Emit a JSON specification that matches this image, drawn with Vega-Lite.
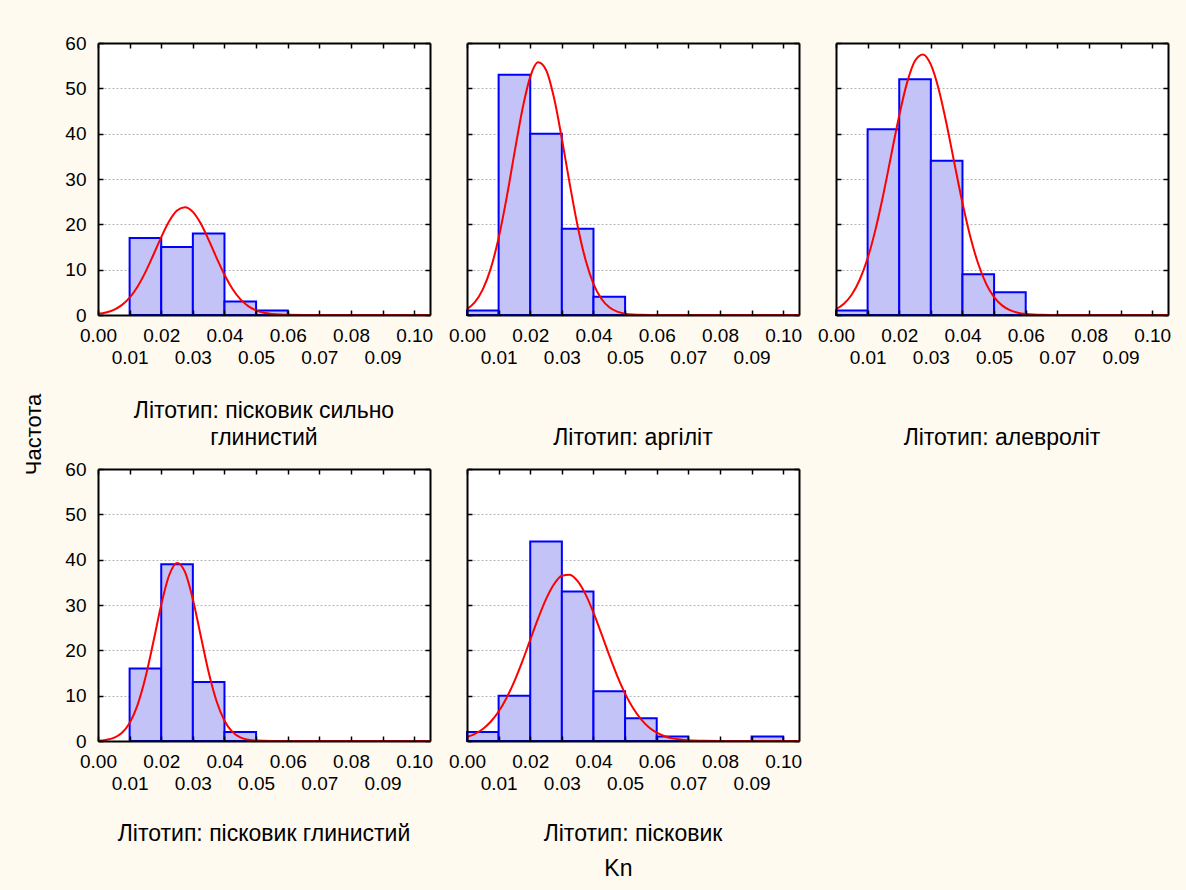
{
  "$schema": "https://vega.github.io/schema/vega-lite/v6.json",
  "background": "#fffaf0",
  "padding": {"left": 22, "top": 34, "right": 14, "bottom": 10},
  "config": {
    "font": "Liberation Sans",
    "view": {"fill": "white", "stroke": null},
    "axis": {"labelFont": "Liberation Sans", "labelFontSize": 19, "labelColor": "black", "tickColor": "black", "tickWidth": 1.5, "domainColor": "black", "domainWidth": 2},
    "title": {"font": "Liberation Sans", "fontSize": 23, "fontWeight": "normal", "color": "black", "lineHeight": 27}
  },
  "datasets": {
    "bins": [
      {"t": "пісковик сильно глинистий", "lo": 0.01, "hi": 0.02, "n": 17},
      {"t": "пісковик сильно глинистий", "lo": 0.02, "hi": 0.03, "n": 15},
      {"t": "пісковик сильно глинистий", "lo": 0.03, "hi": 0.04, "n": 18},
      {"t": "пісковик сильно глинистий", "lo": 0.04, "hi": 0.05, "n": 3},
      {"t": "пісковик сильно глинистий", "lo": 0.05, "hi": 0.06, "n": 1},
      {"t": "аргіліт", "lo": 0.0, "hi": 0.01, "n": 1},
      {"t": "аргіліт", "lo": 0.01, "hi": 0.02, "n": 53},
      {"t": "аргіліт", "lo": 0.02, "hi": 0.03, "n": 40},
      {"t": "аргіліт", "lo": 0.03, "hi": 0.04, "n": 19},
      {"t": "аргіліт", "lo": 0.04, "hi": 0.05, "n": 4},
      {"t": "алевроліт", "lo": 0.0, "hi": 0.01, "n": 1},
      {"t": "алевроліт", "lo": 0.01, "hi": 0.02, "n": 41},
      {"t": "алевроліт", "lo": 0.02, "hi": 0.03, "n": 52},
      {"t": "алевроліт", "lo": 0.03, "hi": 0.04, "n": 34},
      {"t": "алевроліт", "lo": 0.04, "hi": 0.05, "n": 9},
      {"t": "алевроліт", "lo": 0.05, "hi": 0.06, "n": 5},
      {"t": "пісковик глинистий", "lo": 0.01, "hi": 0.02, "n": 16},
      {"t": "пісковик глинистий", "lo": 0.02, "hi": 0.03, "n": 39},
      {"t": "пісковик глинистий", "lo": 0.03, "hi": 0.04, "n": 13},
      {"t": "пісковик глинистий", "lo": 0.04, "hi": 0.05, "n": 2},
      {"t": "пісковик", "lo": 0.0, "hi": 0.01, "n": 2},
      {"t": "пісковик", "lo": 0.01, "hi": 0.02, "n": 10},
      {"t": "пісковик", "lo": 0.02, "hi": 0.03, "n": 44},
      {"t": "пісковик", "lo": 0.03, "hi": 0.04, "n": 33},
      {"t": "пісковик", "lo": 0.04, "hi": 0.05, "n": 11},
      {"t": "пісковик", "lo": 0.05, "hi": 0.06, "n": 5},
      {"t": "пісковик", "lo": 0.06, "hi": 0.07, "n": 1},
      {"t": "пісковик", "lo": 0.09, "hi": 0.1, "n": 1}
    ],
    "curve": [
      {"t": "пісковик сильно глинистий", "kn": 0, "f": 0.25},
      {"t": "пісковик сильно глинистий", "kn": 0.0025, "f": 0.56},
      {"t": "пісковик сильно глинистий", "kn": 0.005, "f": 1.14},
      {"t": "пісковик сильно глинистий", "kn": 0.0075, "f": 2.17},
      {"t": "пісковик сильно глинистий", "kn": 0.01, "f": 3.83},
      {"t": "пісковик сильно глинистий", "kn": 0.0125, "f": 6.25},
      {"t": "пісковик сильно глинистий", "kn": 0.015, "f": 9.45},
      {"t": "пісковик сильно глинистий", "kn": 0.0175, "f": 13.24},
      {"t": "пісковик сильно глинистий", "kn": 0.02, "f": 17.19},
      {"t": "пісковик сильно глинистий", "kn": 0.0225, "f": 20.68},
      {"t": "пісковик сильно глинистий", "kn": 0.025, "f": 23.04},
      {"t": "пісковик сильно глинистий", "kn": 0.0275, "f": 23.79},
      {"t": "пісковик сильно глинистий", "kn": 0.03, "f": 22.76},
      {"t": "пісковик сильно глинистий", "kn": 0.0325, "f": 20.18},
      {"t": "пісковик сильно глинистий", "kn": 0.035, "f": 16.57},
      {"t": "пісковик сильно глинистий", "kn": 0.0375, "f": 12.61},
      {"t": "пісковик сильно глинистий", "kn": 0.04, "f": 8.89},
      {"t": "пісковик сильно глинистий", "kn": 0.0425, "f": 5.8},
      {"t": "пісковик сильно глинистий", "kn": 0.045, "f": 3.51},
      {"t": "пісковик сильно глинистий", "kn": 0.0475, "f": 1.97},
      {"t": "пісковик сильно глинистий", "kn": 0.05, "f": 1.02},
      {"t": "пісковик сильно глинистий", "kn": 0.0525, "f": 0.49},
      {"t": "пісковик сильно глинистий", "kn": 0.055, "f": 0.22},
      {"t": "пісковик сильно глинистий", "kn": 0.0575, "f": 0.09},
      {"t": "пісковик сильно глинистий", "kn": 0.06, "f": 0.035},
      {"t": "пісковик сильно глинистий", "kn": 0.065, "f": 0.003},
      {"t": "пісковик сильно глинистий", "kn": 0.07, "f": 0},
      {"t": "пісковик сильно глинистий", "kn": 0.105, "f": 0},
      {"t": "аргіліт", "kn": 0, "f": 1.31},
      {"t": "аргіліт", "kn": 0.0025, "f": 2.84},
      {"t": "аргіліт", "kn": 0.005, "f": 5.64},
      {"t": "аргіліт", "kn": 0.0075, "f": 10.23},
      {"t": "аргіліт", "kn": 0.01, "f": 16.98},
      {"t": "аргіліт", "kn": 0.0125, "f": 25.74},
      {"t": "аргіліт", "kn": 0.015, "f": 35.71},
      {"t": "аргіліт", "kn": 0.0175, "f": 45.29},
      {"t": "аргіліт", "kn": 0.02, "f": 52.54},
      {"t": "аргіліт", "kn": 0.0225, "f": 55.74},
      {"t": "аргіліт", "kn": 0.025, "f": 54.06},
      {"t": "аргіліт", "kn": 0.0275, "f": 47.96},
      {"t": "аргіліт", "kn": 0.03, "f": 38.9},
      {"t": "аргіліт", "kn": 0.0325, "f": 28.87},
      {"t": "аргіліт", "kn": 0.035, "f": 19.59},
      {"t": "аргіліт", "kn": 0.0375, "f": 12.15},
      {"t": "аргіліт", "kn": 0.04, "f": 6.89},
      {"t": "аргіліт", "kn": 0.0425, "f": 3.57},
      {"t": "аргіліт", "kn": 0.045, "f": 1.69},
      {"t": "аргіліт", "kn": 0.0475, "f": 0.73},
      {"t": "аргіліт", "kn": 0.05, "f": 0.29},
      {"t": "аргіліт", "kn": 0.0525, "f": 0.11},
      {"t": "аргіліт", "kn": 0.055, "f": 0.035},
      {"t": "аргіліт", "kn": 0.06, "f": 0.002},
      {"t": "аргіліт", "kn": 0.065, "f": 0},
      {"t": "аргіліт", "kn": 0.105, "f": 0},
      {"t": "алевроліт", "kn": 0, "f": 1.27},
      {"t": "алевроліт", "kn": 0.0025, "f": 2.48},
      {"t": "алевроліт", "kn": 0.005, "f": 4.53},
      {"t": "алевроліт", "kn": 0.0075, "f": 7.78},
      {"t": "алевроліт", "kn": 0.01, "f": 12.52},
      {"t": "алевроліт", "kn": 0.0125, "f": 18.89},
      {"t": "алевроліт", "kn": 0.015, "f": 26.7},
      {"t": "алевроліт", "kn": 0.0175, "f": 35.41},
      {"t": "алевроліт", "kn": 0.02, "f": 44.02},
      {"t": "алевроліт", "kn": 0.0225, "f": 51.31},
      {"t": "алевроліт", "kn": 0.025, "f": 56.09},
      {"t": "алевроліт", "kn": 0.0275, "f": 57.47},
      {"t": "алевроліт", "kn": 0.03, "f": 55.22},
      {"t": "алевроліт", "kn": 0.0325, "f": 49.75},
      {"t": "алевроліт", "kn": 0.035, "f": 42.03},
      {"t": "алевроліт", "kn": 0.0375, "f": 33.29},
      {"t": "алевроліт", "kn": 0.04, "f": 24.72},
      {"t": "алевроліт", "kn": 0.0425, "f": 17.21},
      {"t": "алевроліт", "kn": 0.045, "f": 11.24},
      {"t": "алевроліт", "kn": 0.0475, "f": 6.88},
      {"t": "алевроліт", "kn": 0.05, "f": 3.94},
      {"t": "алевроліт", "kn": 0.0525, "f": 2.12},
      {"t": "алевроліт", "kn": 0.055, "f": 1.07},
      {"t": "алевроліт", "kn": 0.0575, "f": 0.51},
      {"t": "алевроліт", "kn": 0.06, "f": 0.22},
      {"t": "алевроліт", "kn": 0.0625, "f": 0.09},
      {"t": "алевроліт", "kn": 0.065, "f": 0.036},
      {"t": "алевроліт", "kn": 0.07, "f": 0.004},
      {"t": "алевроліт", "kn": 0.075, "f": 0},
      {"t": "алевроліт", "kn": 0.105, "f": 0},
      {"t": "пісковик глинистий", "kn": 0, "f": 0.07},
      {"t": "пісковик глинистий", "kn": 0.0025, "f": 0.24},
      {"t": "пісковик глинистий", "kn": 0.005, "f": 0.69},
      {"t": "пісковик глинистий", "kn": 0.0075, "f": 1.76},
      {"t": "пісковик глинистий", "kn": 0.01, "f": 3.97},
      {"t": "пісковик глинистий", "kn": 0.0125, "f": 7.93},
      {"t": "пісковик глинистий", "kn": 0.015, "f": 14.0},
      {"t": "пісковик глинистий", "kn": 0.0175, "f": 21.82},
      {"t": "пісковик глинистий", "kn": 0.02, "f": 30.06},
      {"t": "пісковик глинистий", "kn": 0.0225, "f": 36.56},
      {"t": "пісковик глинистий", "kn": 0.025, "f": 39.28},
      {"t": "пісковик глинистий", "kn": 0.0275, "f": 37.29},
      {"t": "пісковик глинистий", "kn": 0.03, "f": 31.27},
      {"t": "пісковик глинистий", "kn": 0.0325, "f": 23.16},
      {"t": "пісковик глинистий", "kn": 0.035, "f": 15.16},
      {"t": "пісковик глинистий", "kn": 0.0375, "f": 8.76},
      {"t": "пісковик глинистий", "kn": 0.04, "f": 4.48},
      {"t": "пісковик глинистий", "kn": 0.0425, "f": 2.02},
      {"t": "пісковик глинистий", "kn": 0.045, "f": 0.8},
      {"t": "пісковик глинистий", "kn": 0.0475, "f": 0.28},
      {"t": "пісковик глинистий", "kn": 0.05, "f": 0.09},
      {"t": "пісковик глинистий", "kn": 0.055, "f": 0.005},
      {"t": "пісковик глинистий", "kn": 0.06, "f": 0},
      {"t": "пісковик глинистий", "kn": 0.105, "f": 0},
      {"t": "пісковик", "kn": 0, "f": 0.9},
      {"t": "пісковик", "kn": 0.0025, "f": 1.58},
      {"t": "пісковик", "kn": 0.005, "f": 2.66},
      {"t": "пісковик", "kn": 0.0075, "f": 4.25},
      {"t": "пісковик", "kn": 0.01, "f": 6.5},
      {"t": "пісковик", "kn": 0.0125, "f": 9.48},
      {"t": "пісковик", "kn": 0.015, "f": 13.22},
      {"t": "пісковик", "kn": 0.0175, "f": 17.58},
      {"t": "пісковик", "kn": 0.02, "f": 22.32},
      {"t": "пісковик", "kn": 0.0225, "f": 27.05},
      {"t": "пісковик", "kn": 0.025, "f": 31.3},
      {"t": "пісковик", "kn": 0.0275, "f": 34.57},
      {"t": "пісковик", "kn": 0.03, "f": 36.45},
      {"t": "пісковик", "kn": 0.0325, "f": 36.69},
      {"t": "пісковик", "kn": 0.035, "f": 35.25},
      {"t": "пісковик", "kn": 0.0375, "f": 32.34},
      {"t": "пісковик", "kn": 0.04, "f": 28.31},
      {"t": "пісковик", "kn": 0.0425, "f": 23.67},
      {"t": "пісковик", "kn": 0.045, "f": 18.88},
      {"t": "пісковик", "kn": 0.0475, "f": 14.38},
      {"t": "пісковик", "kn": 0.05, "f": 10.46},
      {"t": "пісковик", "kn": 0.0525, "f": 7.26},
      {"t": "пісковик", "kn": 0.055, "f": 4.81},
      {"t": "пісковик", "kn": 0.0575, "f": 3.04},
      {"t": "пісковик", "kn": 0.06, "f": 1.84},
      {"t": "пісковик", "kn": 0.0625, "f": 1.06},
      {"t": "пісковик", "kn": 0.065, "f": 0.58},
      {"t": "пісковик", "kn": 0.0675, "f": 0.31},
      {"t": "пісковик", "kn": 0.07, "f": 0.15},
      {"t": "пісковик", "kn": 0.075, "f": 0.03},
      {"t": "пісковик", "kn": 0.08, "f": 0.004},
      {"t": "пісковик", "kn": 0.085, "f": 0},
      {"t": "пісковик", "kn": 0.105, "f": 0}
    ]
  },
  "title": {"text": "Частота", "orient": "left", "anchor": "middle", "offset": 19, "fontSize": 22, "dx": 23},
  "hconcat": [
    {
      "title": {"text": "Kn", "orient": "bottom", "anchor": "middle", "offset": 12, "fontSize": 23},
      "columns": 3,
      "spacing": {"row": 154, "column": 37},
      "bounds": "flush",
      "concat": [
        {
          "width": 332, "height": 272,
          "title": {"text": ["Літотип: пісковик сильно", "глинистий"], "orient": "bottom", "anchor": "middle", "offset": 33},
          "resolve": {"axis": {"x": "independent", "y": "independent"}},
          "layer": [
            {
              "data": {"name": "bins"},
              "transform": [{"filter": "datum.t === 'пісковик сильно глинистий'"}],
              "mark": {"type": "rect", "fill": "#c3c3f7", "stroke": "#0000ff", "strokeWidth": 2},
              "encoding": {
                "x": {"field": "lo", "type": "quantitative", "scale": {"domain": [0, 0.105], "nice": false, "zero": false},
                  "axis": {"orient": "bottom", "title": null, "values": [0, 0.01, 0.02, 0.03, 0.04, 0.05, 0.06, 0.07, 0.08, 0.09, 0.1], "labelExpr": "format(datum.value, '.2f')", "labelOverlap": false, "labelFlush": false, "tickSize": -5, "grid": false, "zindex": 1,
                    "labelPadding": {"condition": {"test": "round(datum.value * 100) % 2 === 1", "value": 38}, "value": 16}}},
                "x2": {"field": "hi"},
                "y": {"field": "n", "type": "quantitative", "scale": {"domain": [0, 60], "nice": false},
                  "axis": {"orient": "left", "title": null, "values": [0, 10, 20, 30, 40, 50, 60], "labelPadding": 17, "tickSize": -5, "grid": false, "zindex": 1}},
                "y2": {"datum": 0}
              }
            },
            {
              "data": {"name": "curve"},
              "transform": [{"filter": "datum.t === 'пісковик сильно глинистий'"}],
              "mark": {"type": "line", "color": "#ff0000", "strokeWidth": 2, "interpolate": "monotone"},
              "encoding": {
                "x": {"field": "kn", "type": "quantitative",
                  "axis": {"orient": "top", "title": null, "values": [0, 0.01, 0.02, 0.03, 0.04, 0.05, 0.06, 0.07, 0.08, 0.09, 0.1], "labels": false, "tickSize": -5, "grid": false, "zindex": 1}},
                "y": {"field": "f", "type": "quantitative",
                  "axis": {"orient": "right", "title": null, "values": [0, 10, 20, 30, 40, 50, 60], "labels": false, "tickSize": -5, "grid": true, "gridDash": [2, 2], "gridColor": "#b4b4b4", "zindex": 0}}
              }
            }
          ]
        },
        {
          "width": 332, "height": 272,
          "title": {"text": "Літотип: аргіліт", "orient": "bottom", "anchor": "middle", "offset": 60},
          "resolve": {"axis": {"x": "independent", "y": "independent"}},
          "layer": [
            {
              "data": {"name": "bins"},
              "transform": [{"filter": "datum.t === 'аргіліт'"}],
              "mark": {"type": "rect", "fill": "#c3c3f7", "stroke": "#0000ff", "strokeWidth": 2},
              "encoding": {
                "x": {"field": "lo", "type": "quantitative", "scale": {"domain": [0, 0.105], "nice": false, "zero": false},
                  "axis": {"orient": "bottom", "title": null, "values": [0, 0.01, 0.02, 0.03, 0.04, 0.05, 0.06, 0.07, 0.08, 0.09, 0.1], "labelExpr": "format(datum.value, '.2f')", "labelOverlap": false, "labelFlush": false, "tickSize": -5, "grid": false, "zindex": 1,
                    "labelPadding": {"condition": {"test": "round(datum.value * 100) % 2 === 1", "value": 38}, "value": 16}}},
                "x2": {"field": "hi"},
                "y": {"field": "n", "type": "quantitative", "scale": {"domain": [0, 60], "nice": false},
                  "axis": {"orient": "left", "title": null, "values": [0, 10, 20, 30, 40, 50, 60], "labels": false, "tickSize": -5, "grid": false, "zindex": 1}},
                "y2": {"datum": 0}
              }
            },
            {
              "data": {"name": "curve"},
              "transform": [{"filter": "datum.t === 'аргіліт'"}],
              "mark": {"type": "line", "color": "#ff0000", "strokeWidth": 2, "interpolate": "monotone"},
              "encoding": {
                "x": {"field": "kn", "type": "quantitative",
                  "axis": {"orient": "top", "title": null, "values": [0, 0.01, 0.02, 0.03, 0.04, 0.05, 0.06, 0.07, 0.08, 0.09, 0.1], "labels": false, "tickSize": -5, "grid": false, "zindex": 1}},
                "y": {"field": "f", "type": "quantitative",
                  "axis": {"orient": "right", "title": null, "values": [0, 10, 20, 30, 40, 50, 60], "labels": false, "tickSize": -5, "grid": true, "gridDash": [2, 2], "gridColor": "#b4b4b4", "zindex": 0}}
              }
            }
          ]
        },
        {
          "width": 332, "height": 272,
          "title": {"text": "Літотип: алевроліт", "orient": "bottom", "anchor": "middle", "offset": 60},
          "resolve": {"axis": {"x": "independent", "y": "independent"}},
          "layer": [
            {
              "data": {"name": "bins"},
              "transform": [{"filter": "datum.t === 'алевроліт'"}],
              "mark": {"type": "rect", "fill": "#c3c3f7", "stroke": "#0000ff", "strokeWidth": 2},
              "encoding": {
                "x": {"field": "lo", "type": "quantitative", "scale": {"domain": [0, 0.105], "nice": false, "zero": false},
                  "axis": {"orient": "bottom", "title": null, "values": [0, 0.01, 0.02, 0.03, 0.04, 0.05, 0.06, 0.07, 0.08, 0.09, 0.1], "labelExpr": "format(datum.value, '.2f')", "labelOverlap": false, "labelFlush": false, "tickSize": -5, "grid": false, "zindex": 1,
                    "labelPadding": {"condition": {"test": "round(datum.value * 100) % 2 === 1", "value": 38}, "value": 16}}},
                "x2": {"field": "hi"},
                "y": {"field": "n", "type": "quantitative", "scale": {"domain": [0, 60], "nice": false},
                  "axis": {"orient": "left", "title": null, "values": [0, 10, 20, 30, 40, 50, 60], "labels": false, "tickSize": -5, "grid": false, "zindex": 1}},
                "y2": {"datum": 0}
              }
            },
            {
              "data": {"name": "curve"},
              "transform": [{"filter": "datum.t === 'алевроліт'"}],
              "mark": {"type": "line", "color": "#ff0000", "strokeWidth": 2, "interpolate": "monotone"},
              "encoding": {
                "x": {"field": "kn", "type": "quantitative",
                  "axis": {"orient": "top", "title": null, "values": [0, 0.01, 0.02, 0.03, 0.04, 0.05, 0.06, 0.07, 0.08, 0.09, 0.1], "labels": false, "tickSize": -5, "grid": false, "zindex": 1}},
                "y": {"field": "f", "type": "quantitative",
                  "axis": {"orient": "right", "title": null, "values": [0, 10, 20, 30, 40, 50, 60], "labels": false, "tickSize": -5, "grid": true, "gridDash": [2, 2], "gridColor": "#b4b4b4", "zindex": 0}}
              }
            }
          ]
        },
        {
          "width": 332, "height": 272,
          "title": {"text": "Літотип: пісковик глинистий", "orient": "bottom", "anchor": "middle", "offset": 30},
          "resolve": {"axis": {"x": "independent", "y": "independent"}},
          "layer": [
            {
              "data": {"name": "bins"},
              "transform": [{"filter": "datum.t === 'пісковик глинистий'"}],
              "mark": {"type": "rect", "fill": "#c3c3f7", "stroke": "#0000ff", "strokeWidth": 2},
              "encoding": {
                "x": {"field": "lo", "type": "quantitative", "scale": {"domain": [0, 0.105], "nice": false, "zero": false},
                  "axis": {"orient": "bottom", "title": null, "values": [0, 0.01, 0.02, 0.03, 0.04, 0.05, 0.06, 0.07, 0.08, 0.09, 0.1], "labelExpr": "format(datum.value, '.2f')", "labelOverlap": false, "labelFlush": false, "tickSize": -5, "grid": false, "zindex": 1,
                    "labelPadding": {"condition": {"test": "round(datum.value * 100) % 2 === 1", "value": 38}, "value": 16}}},
                "x2": {"field": "hi"},
                "y": {"field": "n", "type": "quantitative", "scale": {"domain": [0, 60], "nice": false},
                  "axis": {"orient": "left", "title": null, "values": [0, 10, 20, 30, 40, 50, 60], "labelPadding": 17, "tickSize": -5, "grid": false, "zindex": 1}},
                "y2": {"datum": 0}
              }
            },
            {
              "data": {"name": "curve"},
              "transform": [{"filter": "datum.t === 'пісковик глинистий'"}],
              "mark": {"type": "line", "color": "#ff0000", "strokeWidth": 2, "interpolate": "monotone"},
              "encoding": {
                "x": {"field": "kn", "type": "quantitative",
                  "axis": {"orient": "top", "title": null, "values": [0, 0.01, 0.02, 0.03, 0.04, 0.05, 0.06, 0.07, 0.08, 0.09, 0.1], "labels": false, "tickSize": -5, "grid": false, "zindex": 1}},
                "y": {"field": "f", "type": "quantitative",
                  "axis": {"orient": "right", "title": null, "values": [0, 10, 20, 30, 40, 50, 60], "labels": false, "tickSize": -5, "grid": true, "gridDash": [2, 2], "gridColor": "#b4b4b4", "zindex": 0}}
              }
            }
          ]
        },
        {
          "width": 332, "height": 272,
          "title": {"text": "Літотип: пісковик", "orient": "bottom", "anchor": "middle", "offset": 30},
          "resolve": {"axis": {"x": "independent", "y": "independent"}},
          "layer": [
            {
              "data": {"name": "bins"},
              "transform": [{"filter": "datum.t === 'пісковик'"}],
              "mark": {"type": "rect", "fill": "#c3c3f7", "stroke": "#0000ff", "strokeWidth": 2},
              "encoding": {
                "x": {"field": "lo", "type": "quantitative", "scale": {"domain": [0, 0.105], "nice": false, "zero": false},
                  "axis": {"orient": "bottom", "title": null, "values": [0, 0.01, 0.02, 0.03, 0.04, 0.05, 0.06, 0.07, 0.08, 0.09, 0.1], "labelExpr": "format(datum.value, '.2f')", "labelOverlap": false, "labelFlush": false, "tickSize": -5, "grid": false, "zindex": 1,
                    "labelPadding": {"condition": {"test": "round(datum.value * 100) % 2 === 1", "value": 38}, "value": 16}}},
                "x2": {"field": "hi"},
                "y": {"field": "n", "type": "quantitative", "scale": {"domain": [0, 60], "nice": false},
                  "axis": {"orient": "left", "title": null, "values": [0, 10, 20, 30, 40, 50, 60], "labels": false, "tickSize": -5, "grid": false, "zindex": 1}},
                "y2": {"datum": 0}
              }
            },
            {
              "data": {"name": "curve"},
              "transform": [{"filter": "datum.t === 'пісковик'"}],
              "mark": {"type": "line", "color": "#ff0000", "strokeWidth": 2, "interpolate": "monotone"},
              "encoding": {
                "x": {"field": "kn", "type": "quantitative",
                  "axis": {"orient": "top", "title": null, "values": [0, 0.01, 0.02, 0.03, 0.04, 0.05, 0.06, 0.07, 0.08, 0.09, 0.1], "labels": false, "tickSize": -5, "grid": false, "zindex": 1}},
                "y": {"field": "f", "type": "quantitative",
                  "axis": {"orient": "right", "title": null, "values": [0, 10, 20, 30, 40, 50, 60], "labels": false, "tickSize": -5, "grid": true, "gridDash": [2, 2], "gridColor": "#b4b4b4", "zindex": 0}}
              }
            }
          ]
        }
      ]
    }
  ]
}
